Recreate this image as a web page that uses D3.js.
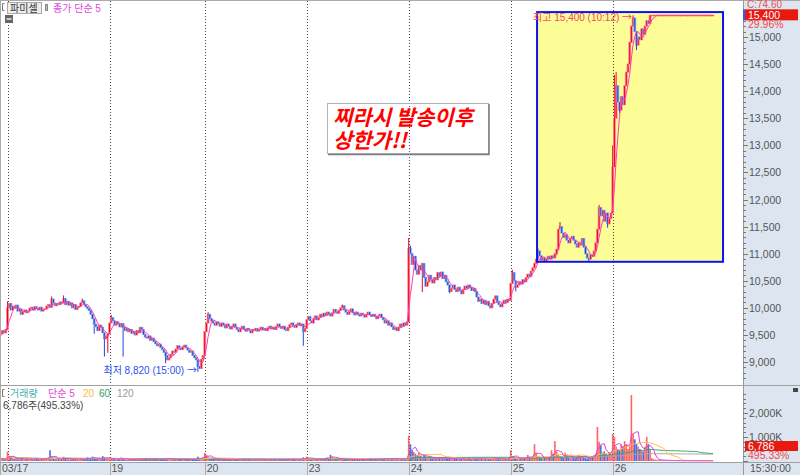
<!DOCTYPE html>
<html>
<head>
<meta charset="utf-8">
<script src="https://cdnjs.cloudflare.com/ajax/libs/d3/7.8.5/d3.min.js"></script>
<style>
  body { margin: 0; background: #fff; }
  svg { display: block; font-family: "Liberation Sans", "Noto Sans CJK KR", sans-serif; }
</style>
</head>
<body>
<div id="chart"></div>
<script>
var width = 800,
    height = 475,
    plotRight = 743,
    priceBottom = 385,
    volBottom = 462;

var dayLabels = ["03/17", "19", "20", "23", "24", "25", "26"];

// closes per session (first block = tail of 03/16)
var firstOpen = 9500;
var close16 = [9520, 9580, 9540, 9600];
var close17 = [
  10000, 10080, 9960, 10030, 9990, 10050, 9940, 9980, 9880, 9930,
  9960, 9910, 9940, 9990, 10010, 9960, 10020, 9990, 9960, 10010,
  9940, 9970, 9980, 10030, 10060, 10010, 10160, 10090, 10040, 10080,
  10060, 10110, 10090, 10170, 10060, 10120, 10050, 10090, 10000, 10060,
  9970, 10010, 10030, 10090, 10130, 10060, 10020, 9990, 9950, 9880,
  9800, 9700, 9650, 9580, 9680, 9640, 9540, 9430, 9480, 9520];
var close19 = [
  9720, 9820, 9760, 9680, 9740, 9700, 9650, 9710, 9640, 9580,
  9620, 9560, 9600, 9530, 9560, 9500, 9580, 9540, 9640, 9600,
  9510, 9460, 9440, 9480, 9400, 9440, 9380, 9340, 9300, 9330,
  9270, 9230, 9180, 9120, 9040, 9080, 9140, 9200, 9180, 9240,
  9300, 9260, 9230, 9280, 9310, 9260, 9220, 9180, 9200, 9120,
  9080, 9040, 8920, 8880, 9050, 9120];
var close20 = [
  9560, 9720, 9880, 9800, 9760, 9720, 9680, 9740, 9700, 9660,
  9720, 9680, 9630, 9700, 9660, 9610, 9650, 9700, 9640, 9600,
  9560, 9620, 9660, 9600, 9570, 9620, 9590, 9540, 9600, 9580,
  9620, 9570, 9600, 9640, 9590, 9620, 9580, 9630, 9660, 9610,
  9640, 9600, 9660, 9700, 9650, 9620, 9660, 9600, 9580, 9640,
  9690, 9720, 9670, 9640, 9690, 9720, 9670, 9700, 9560, 9620];
var close23 = [
  9780, 9840, 9760, 9720, 9800, 9850, 9780, 9820, 9880, 9840,
  9900, 9860, 9920, 9880, 9850, 9910, 9970, 9930, 9900, 9960,
  10000, 10040, 9960, 9920, 9880, 9930, 9980, 9910, 9870, 9920,
  9880, 9850, 9900, 9870, 9830, 9880, 9920, 9870, 9840, 9880,
  9840, 9800, 9850, 9880, 9820, 9780, 9720, 9760, 9680, 9720,
  9650, 9600, 9630, 9580, 9640, 9700, 9660, 9720, 9680, 9740];
var close24 = [
  11100, 11000, 10800, 10950, 10700, 10620, 10780, 10700, 10820, 10560,
  10400, 10480, 10600, 10520, 10460, 10560, 10520, 10650, 10580, 10660,
  10540, 10600, 10480, 10420, 10300, 10360, 10420, 10340, 10300, 10380,
  10320, 10260, 10340, 10400, 10360, 10420, 10380, 10320, 10360, 10300,
  10200, 10120, 10160, 10080, 10140, 10060, 10120, 10040, 10000, 10080,
  10160, 10220, 10100, 10060, 10020, 10080, 10140, 10100, 10160, 10140];
var close25 = [
  10450, 10650, 10500, 10380, 10420, 10480, 10440, 10520, 10480, 10560,
  10620, 10580, 10680, 10740, 10820, 10900, 11050, 10960, 10880, 10920,
  10860, 10900, 10950, 10900, 10960, 10920, 11000, 11080, 11450, 11500,
  11380, 11300, 11350, 11250, 11200, 11280, 11320, 11250, 11180, 11120,
  11200, 11160, 11280, 11120, 11000, 10920, 10900, 10980, 10950, 11050,
  11200, 11450, 11850, 11700, 11800, 11600, 11750, 11550, 11650, 11750];
var close26 = [
  12600, 13500, 14100, 13800, 13650, 13900, 13750, 14100, 14350, 14500,
  14900, 15200, 15350, 15100, 14850, 15000, 14950, 15150, 15050, 15200,
  15300, 15250, 15400, 15400, 15400, 15400, 15400, 15400, 15400, 15400,
  15400, 15400, 15400, 15400, 15400, 15400, 15400, 15400, 15400, 15400,
  15400, 15400, 15400, 15400, 15400, 15400, 15400, 15400, 15400, 15400,
  15400, 15400, 15400, 15400, 15400, 15400, 15400, 15400, 15400, 15400];

// [bar, price] wick extremes beyond the body
var highWicks = [[4, 10120], [30, 10210], [37, 10230], [48, 10170], [65, 9870], [122, 9920], [201, 10060],
  [240, 11290], [241, 11150], [301, 10700], [316, 11100], [329, 11585], [352, 11900],
  [360, 13000], [361, 14300], [362, 14350], [372, 15400]];
var lowWicks = [[55, 9520], [61, 9100], [63, 9170], [72, 9100], [97, 8980], [116, 8820], [178, 9300],
  [248, 10290], [264, 10270], [303, 10300], [346, 10850], [357, 11480], [364, 13600], [374, 14760]];

// volume per bar, thousands of shares
var vol16 = [80, 100, 60, 90];
var vol17 = [
  390, 220, 150, 120, 90, 130, 80, 70, 110, 90, 60, 80, 100, 70, 90, 60, 80, 120, 70, 60,
  90, 80, 110, 70, 150, 450, 160, 90, 70, 120, 80, 60, 90, 180, 100, 80, 60, 90, 70, 100,
  80, 60, 70, 90, 110, 70, 90, 150, 120, 100, 180, 140, 90, 80, 110, 70, 200, 150, 90, 110];
var vol19 = [
  120, 90, 70, 80, 60, 90, 70, 150, 80, 60, 70, 50, 60, 80, 90, 60, 70, 50, 110, 60,
  50, 70, 60, 80, 50, 60, 70, 90, 60, 50, 80, 70, 100, 120, 90, 60, 70, 50, 80, 60,
  50, 70, 60, 50, 80, 60, 70, 50, 60, 80, 70, 90, 180, 120, 100, 140];
var vol20 = [
  330, 260, 180, 120, 150, 90, 80, 100, 70, 60, 80, 60, 50, 70, 60, 50, 80, 60, 50, 60,
  40, 60, 50, 70, 40, 60, 50, 40, 60, 50, 60, 40, 50, 70, 50, 40, 60, 50, 80, 60,
  50, 60, 40, 70, 50, 60, 80, 60, 50, 70, 60, 90, 70, 60, 80, 70, 60, 90, 150, 100];
var vol23 = [
  180, 120, 90, 80, 100, 70, 90, 80, 110, 90, 120, 100, 150, 130, 260, 180, 110, 90, 120, 80,
  100, 90, 70, 80, 60, 90, 70, 60, 80, 60, 70, 60, 50, 80, 60, 70, 50, 60, 70, 50,
  60, 80, 70, 90, 60, 80, 110, 90, 70, 80, 100, 120, 90, 80, 70, 90, 80, 100, 90, 110];
var vol24 = [
  1050, 700, 450, 380, 300, 250, 350, 220, 180, 260, 200, 150, 180, 140, 120, 160, 130, 110, 150, 120,
  100, 130, 90, 110, 140, 100, 80, 90, 120, 80, 70, 100, 80, 90, 70, 110, 80, 60, 90, 70,
  120, 90, 80, 100, 70, 80, 60, 90, 70, 80, 100, 140, 90, 80, 70, 90, 80, 100, 70, 90];
var vol25 = [
  450, 200, 150, 120, 100, 150, 120, 90, 140, 110, 250, 180, 130, 200, 700, 350, 200, 150, 120, 100,
  130, 110, 150, 180, 450, 300, 830, 400, 250, 200, 180, 150, 350, 200, 150, 120, 180, 140, 110, 130,
  250, 160, 200, 140, 120, 100, 150, 130, 200, 250, 300, 1420, 800, 650, 350, 400, 300, 250, 350, 300];
var vol26 = [
  1125, 1000, 600, 500, 450, 700, 600, 830, 700, 500, 600, 2750, 1125, 900, 700, 600, 500, 450, 400, 600,
  1010, 700, 500, 120, 80, 60, 50, 40, 40, 30, 30, 30, 20, 20, 20, 20, 20, 10, 10, 10,
  10, 10, 10, 10, 10, 10, 10, 10, 10, 10, 10, 10, 10, 10, 10, 10, 10, 10, 10, 10];

var priceTicks = [9000, 9500, 10000, 10500, 11000, 11500, 12000, 12500, 13000, 13500, 14000, 14500, 15000];
var volTicks = [1000, 2000];
var volMaPeriods = [5, 20, 60, 120];
var volMaColors = ["#e040e0", "#ffc040", "#3ea565", "#a8a8a8"];

// highlighted box (bar index range, price range)
var boxBars = [315.5, 424.9],
    boxPrices = [10850, 15460];

var hiTime = "10:12", loTime = "15:00";

var closeDays = [close16, close17, close19, close20, close23, close24, close25, close26];
var closes = d3.merge(closeDays);
var volumes = d3.merge([vol16, vol17, vol19, vol20, vol23, vol24, vol25, vol26]);

var fmt = d3.format(",");

var bars = closes.map(function(c, i) {
  var o = i === 0 ? firstOpen : closes[i - 1];
  return { i: i, o: o, c: c, h: Math.max(o, c), l: Math.min(o, c), v: volumes[i] };
});
highWicks.forEach(function(d) { bars[d[0]].h = Math.max(bars[d[0]].h, d[1]); });
lowWicks.forEach(function(d) { bars[d[0]].l = Math.min(bars[d[0]].l, d[1]); });

var dayStarts = [], acc = 0;
closeDays.forEach(function(a) { dayStarts.push(acc); acc += a.length; });
dayStarts = dayStarts.slice(1);

var x = d3.scaleLinear().domain([0, closes.length - 1]).range([0.7, 713]);
var y = d3.scaleLinear().domain([9000, 15000]).range([362, 37]);
var yv = d3.scaleLinear().domain([0, 2000]).range([461, 413]);

function movingAvg(arr, n) {
  return arr.map(function(d, i) { return d3.mean(arr.slice(Math.max(0, i - n + 1), i + 1)); });
}

var svg = d3.select("#chart").append("svg")
  .attr("width", width)
  .attr("height", height);

svg.append("defs").append("clipPath").attr("id", "pclip")
  .append("rect").attr("x", 0).attr("y", 0).attr("width", plotRight).attr("height", priceBottom);
svg.select("defs").append("clipPath").attr("id", "vclip")
  .append("rect").attr("x", 0).attr("y", priceBottom).attr("width", plotRight).attr("height", volBottom - priceBottom);

svg.append("rect").attr("width", width).attr("height", height).attr("fill", "#fff");

// yellow box fill
svg.append("rect")
  .attr("x", x(boxBars[0])).attr("y", y(boxPrices[1]))
  .attr("width", x(boxBars[1]) - x(boxBars[0]))
  .attr("height", y(boxPrices[0]) - y(boxPrices[1]))
  .attr("fill", "#fdfd98");

// session separators
svg.selectAll("line.day")
  .data(dayStarts)
  .enter().append("line")
  .attr("class", "day")
  .attr("x1", function(d) { return Math.round(x(d)) + 0.5; })
  .attr("x2", function(d) { return Math.round(x(d)) + 0.5; })
  .attr("y1", 1).attr("y2", volBottom)
  .attr("stroke", "#444")
  .attr("stroke-dasharray", "1,2");

// candles
var pg = svg.append("g").attr("clip-path", "url(#pclip)");
var cg = pg.selectAll("g.candle")
  .data(bars)
  .enter().append("g");

cg.append("rect")
  .attr("x", function(d) { return x(d.i) - 1.4; })
  .attr("width", 2.8)
  .attr("y", function(d) { return y(Math.max(d.o, d.c)) - 0.5; })
  .attr("height", function(d) { return Math.max(1, y(Math.min(d.o, d.c)) - y(Math.max(d.o, d.c)) + 1); })
  .attr("fill", function(d) { return d.c >= d.o ? "#ff8484" : "#80a8ee"; });

cg.append("line")
  .attr("x1", function(d) { return x(d.i); })
  .attr("x2", function(d) { return x(d.i); })
  .attr("y1", function(d) { return y(d.h); })
  .attr("y2", function(d) { return y(d.l) + (d.h === d.l ? 1 : 0); })
  .attr("stroke", function(d) { return d.c >= d.o ? "#e8002a" : "#1c48d6"; })
  .attr("stroke-width", 1);

var ma5 = movingAvg(closes, 5);
pg.append("path")
  .datum(ma5)
  .attr("d", d3.line().x(function(d, i) { return x(i); }).y(function(d) { return y(d); }))
  .attr("fill", "none")
  .attr("stroke", "#ff3cb4")
  .attr("stroke-width", 1);

// yellow box border
svg.append("rect")
  .attr("x", x(boxBars[0])).attr("y", y(boxPrices[1]))
  .attr("width", x(boxBars[1]) - x(boxBars[0]))
  .attr("height", y(boxPrices[0]) - y(boxPrices[1]))
  .attr("fill", "none")
  .attr("stroke", "#0a14f0")
  .attr("stroke-width", 2);

// high / low labels
var hiIdx = d3.maxIndex(bars, function(d) { return d.h; }),
    loIdx = d3.minIndex(bars, function(d) { return d.l; });

var hiText = svg.append("text")
  .attr("x", x(hiIdx) - 1).attr("y", y(bars[hiIdx].h) + 6)
  .attr("text-anchor", "end")
  .attr("fill", "#f4485e")
  .style("font-size", "10px");
hiText.append("tspan").text("최고 " + fmt(bars[hiIdx].h) + " (" + hiTime + ") ");
hiText.append("tspan").style("font-family", "'Noto Sans CJK KR'").text("→");

var loText = svg.append("text")
  .attr("x", x(loIdx) - 1).attr("y", y(bars[loIdx].l) + 2)
  .attr("text-anchor", "end")
  .attr("fill", "#2f4ff2")
  .style("font-size", "10px");
loText.append("tspan").text("최저 " + fmt(bars[loIdx].l) + " (" + loTime + ") ");
loText.append("tspan").style("font-family", "'Noto Sans CJK KR'").text("→");

// comment box
var note = svg.append("g");
note.append("rect")
  .attr("x", 327.5).attr("y", 103.5).attr("width", 161).attr("height", 50)
  .attr("fill", "none").attr("stroke", "#b4b4b4");
note.append("path")
  .attr("d", "M489,104V154.5H328")
  .attr("fill", "none").attr("stroke", "#7c7c7c").attr("stroke-width", 1.5);
note.selectAll("text")
  .data(["찌라시 발송이후", "상한가!!"])
  .enter().append("text")
  .attr("x", 333)
  .attr("y", function(d, i) { return 125 + i * 23; })
  .attr("fill", "#ff0000")
  .style("font-family", "'Noto Sans CJK KR', sans-serif")
  .style("font-size", "21px")
  .style("font-weight", "bold")
  .style("font-style", "italic")
  .text(function(d) { return d; });

// volume bars
var vg = svg.append("g").attr("clip-path", "url(#vclip)");
vg.selectAll("rect")
  .data(bars)
  .enter().append("rect")
  .attr("x", function(d) { return x(d.i) - 0.8; })
  .attr("width", 1.6)
  .attr("y", function(d) { return yv(d.v); })
  .attr("height", function(d) { return yv(0) - yv(d.v); })
  .attr("fill", function(d) { return d.c >= d.o ? "#ff4a4a" : "#2456e0"; })
  .attr("opacity", 0.85);

volMaPeriods.slice().reverse().forEach(function(p, k) {
  var col = volMaColors[volMaPeriods.length - 1 - k];
  vg.append("path")
    .datum(movingAvg(volumes, p))
    .attr("d", d3.line().x(function(d, i) { return x(i); }).y(function(d) { return yv(d); }))
    .attr("fill", "none")
    .attr("stroke", col)
    .attr("stroke-width", 1);
});

// axis panels
svg.append("rect").attr("x", plotRight).attr("y", 0).attr("width", width - plotRight).attr("height", height).attr("fill", "#dde6f0");
svg.append("rect").attr("x", 0).attr("y", volBottom).attr("width", plotRight).attr("height", height - volBottom).attr("fill", "#dde6f0");

svg.append("line").attr("x1", 0).attr("x2", width).attr("y1", 0.5).attr("y2", 0.5).attr("stroke", "#aaa");
svg.append("line").attr("x1", 0.5).attr("x2", 0.5).attr("y1", 0).attr("y2", height).attr("stroke", "#aaa");
svg.append("line").attr("x1", plotRight + 0.5).attr("x2", plotRight + 0.5).attr("y1", 0).attr("y2", height).attr("stroke", "#999");
svg.append("line").attr("x1", 0).attr("x2", width).attr("y1", priceBottom + 0.5).attr("y2", priceBottom + 0.5).attr("stroke", "#a0a0a0");
svg.append("line").attr("x1", 0).attr("x2", width).attr("y1", volBottom + 0.5).attr("y2", volBottom + 0.5).attr("stroke", "#a0a0a0");

// price axis
var ax = svg.append("g").style("font-size", "10.5px").attr("fill", "#555");
ax.selectAll("line.minor")
  .data(d3.range(8700, 15500, 100))
  .enter().append("line")
  .attr("x1", plotRight).attr("x2", function(d) { return d % 500 === 0 ? plotRight + 5 : plotRight + 3; })
  .attr("y1", function(d) { return Math.round(y(d)) + 0.5; })
  .attr("y2", function(d) { return Math.round(y(d)) + 0.5; })
  .attr("stroke", "#777");
ax.selectAll("text.pt")
  .data(priceTicks)
  .enter().append("text")
  .attr("x", plotRight + 6)
  .attr("y", function(d) { return y(d) + 4; })
  .text(function(d) { return fmt(d); });

// volume axis
ax.selectAll("line.vminor")
  .data(d3.range(0, 3000, 200))
  .enter().append("line")
  .attr("x1", plotRight).attr("x2", function(d) { return d % 1000 === 0 ? plotRight + 5 : plotRight + 3; })
  .attr("y1", function(d) { return Math.round(yv(d)) + 0.5; })
  .attr("y2", function(d) { return Math.round(yv(d)) + 0.5; })
  .attr("stroke", "#777");
ax.selectAll("text.vt")
  .data(volTicks)
  .enter().append("text")
  .attr("x", plotRight + 6)
  .attr("y", function(d) { return yv(d) + 4; })
  .text(function(d) { return fmt(d) + "K"; });
svg.append("rect").attr("x", 793).attr("y", 388).attr("width", 5).attr("height", 4).attr("fill", "#444");

// last price marker
var last = closes[closes.length - 1];
svg.append("text").attr("x", 747).attr("y", 8).attr("fill", "#e85050").style("font-size", "10px").text("C:74.60");
svg.append("rect").attr("x", 743).attr("y", y(last) - 6).attr("width", 2).attr("height", 11).attr("fill", "#2a5cff");
svg.append("rect").attr("x", 745).attr("y", y(last) - 6).attr("width", 53).attr("height", 11).attr("fill", "#e8190f");
svg.append("text").attr("x", 748).attr("y", y(last) + 3.5).attr("fill", "#fff").style("font-size", "10.5px").text(fmt(last));
svg.append("text").attr("x", 748).attr("y", y(last) + 13).attr("fill", "#f04848").style("font-size", "10.5px").text("29.96%");

svg.append("rect").attr("x", 745).attr("y", 441).attr("width", 53).attr("height", 10).attr("fill", "#e8190f");
svg.append("text").attr("x", 748).attr("y", 449.5).attr("fill", "#fff").style("font-size", "10.5px").text("6,786");
svg.append("text").attr("x", 748).attr("y", 459).attr("fill", "#f04848").style("font-size", "10.5px").text("495.33%");

// date axis
svg.selectAll("line.dtick")
  .data(dayStarts.slice(1))
  .enter().append("line")
  .attr("x1", function(d) { return Math.round(x(d)) + 0.5; })
  .attr("x2", function(d) { return Math.round(x(d)) + 0.5; })
  .attr("y1", volBottom).attr("y2", height)
  .attr("stroke", "#aaa");
svg.selectAll("text.date")
  .data(dayLabels)
  .enter().append("text")
  .attr("x", function(d, i) { return i === 0 ? 2 : x(dayStarts[i]) + 2; })
  .attr("y", 472)
  .attr("fill", "#555")
  .style("font-size", "10.5px")
  .text(function(d) { return d; });
svg.append("text").attr("x", 750).attr("y", 472).attr("fill", "#555").style("font-size", "10.5px").text("15:30:00");

// price legend
svg.append("path").attr("d", "M4.5,3.5H2.5V10.5H4.5").attr("fill", "none").attr("stroke", "#777");
svg.append("rect").attr("x", 7.5).attr("y", 2.5).attr("width", 34).attr("height", 11).attr("fill", "#eee").attr("stroke", "#aaa");
svg.append("text").attr("x", 10).attr("y", 12).attr("fill", "#333").style("font-size", "10px").text("파미셀");
svg.append("rect").attr("x", 45.5).attr("y", 4.5).attr("width", 2).attr("height", 6).attr("fill", "#bbb").attr("stroke", "#888");
svg.append("text").attr("x", 53).attr("y", 12).attr("fill", "#e048d8").style("font-size", "10px").text("종가 단순 5");
svg.append("rect").attr("x", 5).attr("y", 15).attr("width", 8).attr("height", 8).attr("fill", "#666");
svg.append("rect").attr("x", 6.5).attr("y", 18).attr("width", 5).attr("height", 2).attr("fill", "#ccc");

// volume legend
svg.append("path").attr("d", "M4.5,389.5H2.5V396.5H4.5").attr("fill", "none").attr("stroke", "#777");
var vlg = [["거래량", "#3fb0b0", 10], ["단순 5", "#e048d8", 48], ["20", "#ffb838", 83], ["60", "#36a060", 99], ["120", "#999", 117]];
svg.selectAll("text.vleg")
  .data(vlg)
  .enter().append("text")
  .attr("x", function(d) { return d[2]; })
  .attr("y", 397)
  .attr("fill", function(d) { return d[1]; })
  .style("font-size", "10px")
  .text(function(d) { return d[0]; });
svg.append("text").attr("x", 3).attr("y", 409).attr("fill", "#444").style("font-size", "10px").text("6,786주(495.33%)");
</script>
</body>
</html>
